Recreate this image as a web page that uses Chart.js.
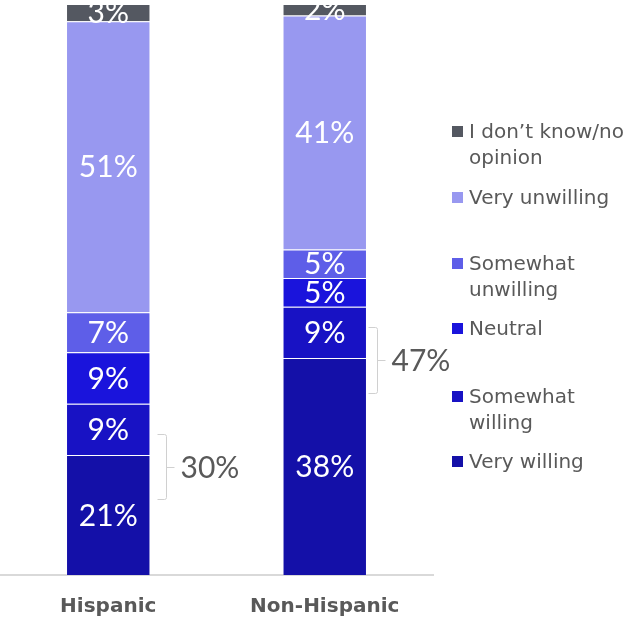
<!DOCTYPE html>
<html>
<head>
<meta charset="utf-8">
<script src="https://cdn.jsdelivr.net/npm/chart.js@4"></script>
<style>
  body { margin: 0; background: #fff; }
  #wrap { position: relative; width: 636px; height: 618px; }
  #legend { position: absolute; left: 0; top: 0; font-family: "DejaVu Sans", sans-serif; font-size: 20px; color: #595959; }
  .item { position: absolute; left: 452px; line-height: 26px; }
  .box { position: absolute; left: 0; top: 8px; width: 11px; height: 11px; }
  .txt { position: absolute; left: 17px; white-space: nowrap; }
</style>
</head>
<body>
<div id="wrap">
  <canvas id="chart" width="636" height="618"></canvas>
  <div id="legend"></div>
</div>
<script>
const groups = ['Hispanic', 'Non-Hispanic'];

// stacked bottom to top
const seriesNames = ['Very willing', 'Somewhat willing', 'Neutral', 'Somewhat unwilling', 'Very unwilling', 'I don\u2019t know/no opinion'];
const seriesColors = ['#1410a8', '#1812c4', '#1a14dc', '#5e5ee8', '#9898f0', '#545861'];

const veryWilling = [21, 38];
const somewhatWilling = [9, 9];
const neutral = [9, 5];
const somewhatUnwilling = [7, 5];
const veryUnwilling = [51, 41];
const dontKnow = [3, 2];

// willing totals shown beside the bars
const willingTotals = [30, 47];
const bracketCenter = [19, 37.6];
const bracketHalf = 5.75;
const bracketGap = [7, 1];

const seriesData = [veryWilling, somewhatWilling, neutral, somewhatUnwilling, veryUnwilling, dontKnow];

// legend, laid out top to bottom like the original
const legendLines = [
  ['I don\u2019t know/no', 'opinion'],
  ['Very unwilling'],
  ['Somewhat', 'unwilling'],
  ['Neutral'],
  ['Somewhat', 'willing'],
  ['Very willing']
];
const legendTops = [118, 184, 250, 315, 383, 448];

const legend = document.getElementById('legend');
legendLines.forEach((lines, i) => {
  const idx = seriesNames.length - 1 - i;
  const item = document.createElement('div');
  item.className = 'item';
  item.style.top = legendTops[i] + 'px';
  const box = document.createElement('div');
  box.className = 'box';
  box.style.background = seriesColors[idx];
  item.appendChild(box);
  const txt = document.createElement('div');
  txt.className = 'txt';
  txt.innerHTML = lines.join('<br>');
  item.appendChild(txt);
  legend.appendChild(item);
});

const labelPlugin = {
  id: 'labels',
  afterDatasetsDraw(chart) {
    const ctx = chart.ctx;
    ctx.save();
    ctx.font = '30px Lato, sans-serif';
    ctx.fillStyle = '#ffffff';
    ctx.textAlign = 'center';
    ctx.textBaseline = 'middle';
    chart.data.datasets.forEach((ds, di) => {
      chart.getDatasetMeta(di).data.forEach((el, i) => {
        ctx.fillText(ds.data[i] + '%', el.x, (el.y + el.base) / 2 + 1);
      });
    });

    // brackets for the willing share
    const y = chart.scales.y;
    const meta = chart.getDatasetMeta(0);
    ctx.strokeStyle = '#d0d0d0';
    ctx.lineWidth = 1;
    meta.data.forEach((el, i) => {
      const x0 = Math.round(el.x + el.width / 2 + bracketGap[i]) + 0.5;
      const x1 = x0 + 9;
      const top = Math.round(y.getPixelForValue(bracketCenter[i] + bracketHalf)) + 0.5;
      const bot = Math.round(y.getPixelForValue(bracketCenter[i] - bracketHalf)) + 0.5;
      const mid = Math.round(y.getPixelForValue(bracketCenter[i])) + 0.5;
      ctx.beginPath();
      ctx.moveTo(x0, top);
      ctx.lineTo(x1 - 2, top);
      ctx.quadraticCurveTo(x1, top, x1, top + 2);
      ctx.lineTo(x1, bot - 2);
      ctx.quadraticCurveTo(x1, bot, x1 - 2, bot);
      ctx.lineTo(x0, bot);
      ctx.moveTo(x1, mid);
      ctx.lineTo(x1 + 8, mid);
      ctx.stroke();
      ctx.fillStyle = '#595959';
      ctx.textAlign = 'left';
      ctx.fillText(willingTotals[i] + '%', x1 + 14, mid + 1);
    });
    ctx.restore();
  }
};

new Chart(document.getElementById('chart'), {
  type: 'bar',
  data: {
    labels: groups,
    datasets: seriesNames.map((name, i) => ({
      label: name,
      data: seriesData[i],
      backgroundColor: seriesColors[i],
      borderColor: 'rgba(255,255,255,0.2)',
      borderWidth: 1,
      barPercentage: 0.39,
      categoryPercentage: 1
    }))
  },
  options: {
    responsive: false,
    animation: false,
    layout: { padding: { left: 0, right: 203, top: 4, bottom: 0 } },
    plugins: { legend: { display: false }, tooltip: { enabled: false } },
    scales: {
      x: {
        stacked: true,
        grid: { display: false, drawTicks: false },
        border: { display: true, color: '#d9d9d9', width: 2 },
        ticks: { color: '#595959', font: { family: 'DejaVu Sans', size: 20, weight: 'bold' }, padding: 20 },
        afterFit: (scale) => { scale.height = 43; }
      },
      y: {
        stacked: true,
        display: false,
        min: 0,
        max: 100
      }
    }
  },
  plugins: [labelPlugin]
});
</script>
</body>
</html>
